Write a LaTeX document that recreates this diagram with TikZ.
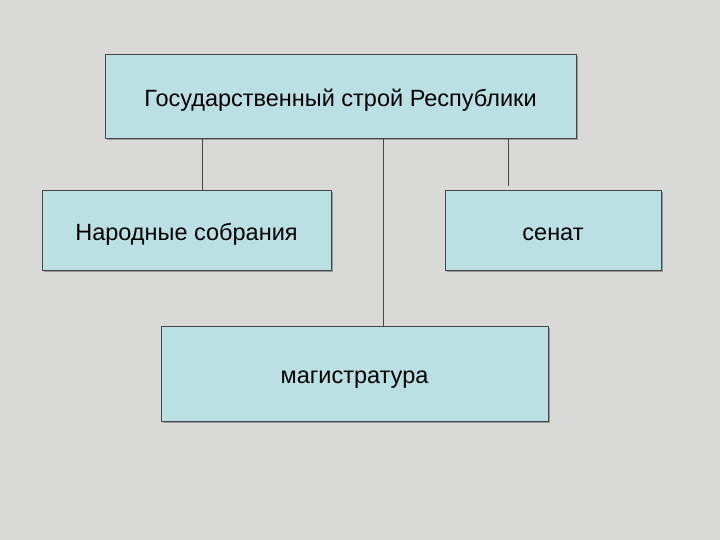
\documentclass[tikz,border=0pt]{standalone}
\usepackage{fontspec}
\setmainfont{Liberation Sans}
\usetikzlibrary{shadows}
\definecolor{bgGrey}{RGB}{217,217,215}
\definecolor{boxFill}{RGB}{187,224,227}
\definecolor{boxLine}{RGB}{70,70,70}
\tikzset{
  orgbox/.style={draw=boxLine, line width=0.8pt, fill=boxFill, inner sep=0pt,
    font=\fontsize{23.5}{28}\selectfont, text height=26pt, text depth=5pt,
    drop shadow={shadow xshift=2pt, shadow yshift=-2pt, fill=black!40, opacity=1}},
  link/.style={draw=boxLine, line width=0.8pt}
}
\begin{document}
\begin{tikzpicture}[x=1pt, y=1pt]

  \fill[bgGrey] (0,0) rectangle (720,540);
  \useasboundingbox (0,0) rectangle (720,540);

  \node[orgbox, minimum width=471pt, minimum height=84pt] (state) at (340.5,444)
    {Государственный строй Республики};
  \node[orgbox, minimum width=289pt, minimum height=80pt] (people) at (186.5,310)
    {Народные собрания};
  \node[orgbox, minimum width=216pt, minimum height=80pt] (senate) at (553,310)
    {сенат};
  \node[orgbox, minimum width=387pt, minimum height=95pt] (magistr) at (354.5,166.5)
    {магистратура};

  \begin{scope}[link]
    \draw ([xshift=15.5pt]people.north |- state.south) -- ([xshift=15.5pt]people.north);
    \draw ([xshift=28.5pt]magistr.north |- state.south) -- ([xshift=28.5pt]magistr.north);
    \draw ([xshift=-45pt]senate.north |- state.south) -- ([xshift=-45pt,yshift=4pt]senate.north);
  \end{scope}
\end{tikzpicture}
\end{document}
